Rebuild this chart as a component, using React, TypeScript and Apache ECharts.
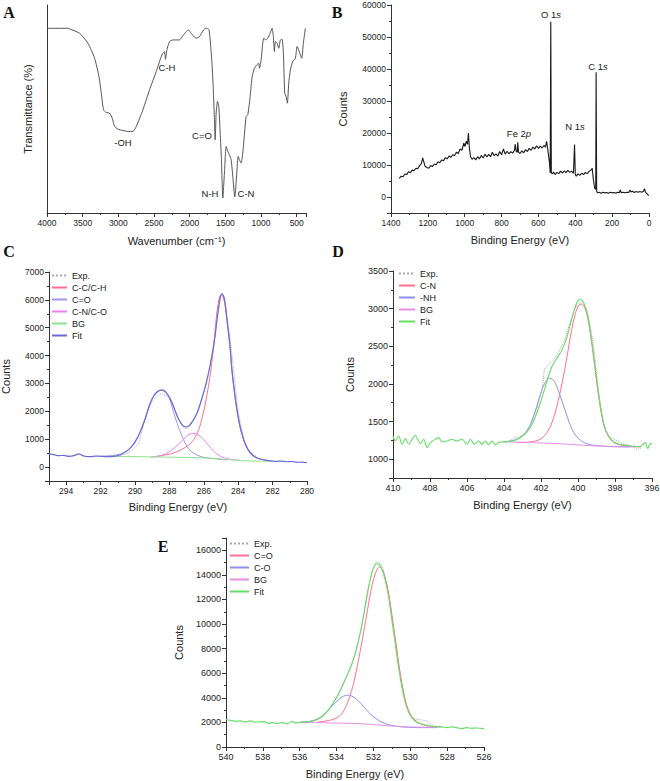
import React, { useEffect, useRef } from 'react';
import * as echarts from 'echarts';

// ---------- Panel A: FTIR ----------
const ftirWavenumber = [4000, 3706, 3683, 3543, 3426, 3333, 3272, 3239, 3207, 3169, 3123, 3085, 3053, 3006, 2936, 2866, 2796, 2749, 2656, 2563, 2469, 2399, 2376, 2353, 2339, 2320, 2283, 2236, 2143, 2105, 2049, 2017, 1979, 1909, 1863, 1807, 1769, 1732, 1709, 1685, 1667, 1653, 1643, 1629, 1611, 1592, 1573, 1555, 1536, 1513, 1489, 1466, 1443, 1419, 1396, 1368, 1340, 1321, 1303, 1279, 1256, 1209, 1186, 1153, 1125, 1093, 1060, 1032, 1023, 999, 976, 962, 929, 906, 873, 845, 827, 813, 799, 775, 752, 729, 705, 687, 668, 649, 631, 612, 589, 556, 519, 495, 472, 449, 430, 407, 379];
const ftirTransmittance = [88.8, 88.8, 88.5, 86.4, 81.6, 74.4, 65.6, 57.6, 49.6, 48.3, 48.0, 45.6, 41.6, 40.3, 39.7, 39.2, 39.2, 41.6, 49.6, 59.2, 68.0, 75.2, 76.8, 77.6, 73.9, 78.4, 82.4, 83.2, 83.2, 84.8, 87.2, 88.0, 86.4, 84.0, 84.8, 88.0, 88.8, 88.3, 81.6, 70.4, 57.6, 44.8, 35.2, 48.0, 53.6, 51.2, 38.4, 25.6, 7.2, 19.2, 32.0, 29.6, 28.0, 25.6, 17.6, 7.7, 19.2, 27.2, 25.6, 24.0, 28.8, 46.4, 47.2, 56.0, 65.6, 69.6, 71.2, 72.0, 69.6, 73.6, 81.6, 84.0, 83.2, 84.0, 86.4, 88.8, 84.8, 77.6, 82.4, 81.6, 79.2, 83.2, 83.5, 76.8, 57.6, 56.0, 52.8, 62.4, 68.8, 72.8, 74.4, 80.0, 78.4, 76.0, 74.4, 81.6, 88.8];
const ftirPeakLabels = ['C-H', '-OH', 'C=O', 'N-H', 'C-N'];

// ---------- Panel B: XPS survey ----------
const surveyBE = [1355, 1345, 1335, 1325, 1315, 1305, 1295, 1285, 1275, 1265, 1255, 1245, 1235, 1228, 1222, 1215, 1205, 1195, 1185, 1175, 1165, 1155, 1145, 1135, 1125, 1115, 1105, 1095, 1085, 1075, 1065, 1055, 1045, 1035, 1025, 1015, 1005, 998, 992, 985, 980, 975, 968, 960, 950, 940, 930, 920, 910, 900, 890, 880, 870, 860, 850, 840, 830, 820, 810, 800, 790, 780, 770, 760, 750, 740, 730, 726, 720, 715, 712, 708, 700, 690, 680, 670, 660, 650, 640, 630, 620, 610, 600, 590, 580, 570, 562, 556, 550, 545, 540, 536, 533, 530, 525, 518, 510, 500, 490, 480, 470, 460, 450, 440, 430, 420, 410, 404, 400, 395, 385, 375, 365, 355, 345, 335, 325, 315, 308, 302, 295, 289, 287, 284, 280, 270, 260, 250, 240, 230, 220, 210, 200, 190, 180, 170, 160, 156, 150, 140, 130, 120, 110, 103, 98, 90, 80, 70, 60, 50, 40, 30, 24, 20, 14, 8, 2];
const surveyCounts = [5800, 6500, 6300, 7200, 7000, 7900, 7600, 8400, 8200, 9000, 8800, 9800, 10400, 12200, 11000, 9600, 9200, 9000, 9800, 9500, 10300, 10100, 11000, 10700, 11600, 11300, 12300, 11900, 12800, 12400, 13200, 13000, 14000, 13600, 15000, 14600, 16800, 15800, 17400, 16500, 20000, 15500, 12500, 11800, 12300, 11600, 12600, 11900, 13000, 12200, 13400, 12500, 13300, 12600, 14000, 12900, 13500, 12800, 14200, 13200, 15000, 13400, 14300, 13500, 14200, 13700, 14600, 16500, 14200, 14000, 17100, 14000, 13600, 14400, 13800, 14800, 14200, 15200, 14600, 15600, 15000, 16000, 15200, 15900, 15300, 16100, 15600, 17400, 15200, 13000, 10600, 7500, 54800, 7600, 7200, 7800, 7000, 7700, 7300, 8100, 7500, 8200, 7600, 8300, 7700, 8100, 7400, 16400, 7100, 6500, 7200, 6800, 7400, 7000, 7700, 7300, 8000, 8400, 9000, 5500, 2800, 2400, 39000, 1800, 1300, 1500, 1200, 1500, 1300, 1400, 1200, 1500, 1300, 1400, 1200, 1500, 1400, 2200, 1300, 1500, 1300, 1500, 1400, 2200, 1600, 1800, 1400, 1700, 1500, 1700, 1500, 1800, 2600, 1600, 1200, 900, 400];

// ---------- Panel C: C 1s ----------
const cExp: number[][] = [[291.0, 390], [290.5, 480], [290.2, 600], [290.0, 700], [289.8, 860], [289.6, 1300], [289.4, 1750], [289.2, 2100], [289.0, 2350], [288.8, 2500], [288.6, 2600], [288.4, 2620], [288.2, 2560], [288.0, 2520], [287.8, 2300], [287.6, 1900], [287.4, 1620], [287.2, 1420], [287.0, 1380], [286.8, 1480], [286.6, 1700], [286.4, 1900], [286.2, 2250], [286.0, 2700], [285.8, 3200], [285.6, 3800], [285.4, 4500], [285.2, 5400], [285.0, 6150], [284.9, 6200], [284.8, 6050], [284.6, 5200], [284.4, 4200], [284.2, 3100], [284.0, 2000], [283.8, 1400], [283.6, 900], [283.4, 650], [283.2, 500], [283.0, 400], [282.8, 300], [282.5, 250], [282.2, 230]];
const cCC: number[][] = [[288.71, 385], [287.75, 505], [286.97, 746], [286.58, 986], [286.29, 1347], [286.1, 1768], [285.96, 2129], [285.81, 2610], [285.65, 3212], [285.5, 3934], [285.38, 4656], [285.27, 5377], [285.17, 5859], [285.07, 6123], [284.98, 6183], [284.88, 6099], [284.78, 5859], [284.65, 5257], [284.49, 4415], [284.36, 3453], [284.2, 2610], [284.03, 1888], [283.83, 1287], [283.58, 806], [283.29, 505], [282.9, 325], [282.32, 241]];
const cCO: number[][] = [[292.0, 385], [291.23, 421], [290.65, 505], [290.26, 686], [289.97, 926], [289.68, 1287], [289.39, 1768], [289.14, 2250], [288.91, 2550], [288.67, 2707], [288.44, 2755], [288.21, 2671], [287.98, 2430], [287.75, 1950], [287.51, 1500], [287.26, 1100], [287.01, 780], [286.74, 570], [286.39, 430], [286.0, 349], [285.42, 300], [284.65, 253]];
const cCN: number[][] = [[289.1, 349], [288.33, 445], [287.84, 626], [287.45, 830], [287.16, 1010], [286.87, 1167], [286.58, 1203], [286.29, 1143], [286.0, 986], [285.71, 770], [285.42, 565], [285.03, 385], [284.45, 277], [283.87, 241]];
const cBG: number[][] = [[292.0, 385], [290.0, 375], [289.0, 365], [288.0, 355], [287.0, 345], [286.0, 330], [285.0, 290], [284.0, 240], [283.0, 215], [282.0, 205]];
const cFit: number[][] = [[295.0, 470], [294.72, 445], [294.43, 410], [294.14, 420], [293.85, 385], [293.55, 410], [293.26, 470], [293.07, 420], [292.88, 385], [292.59, 375], [292.3, 395], [292.0, 385], [291.6, 375], [291.04, 400], [290.65, 510], [290.26, 690], [289.97, 930], [289.68, 1290], [289.39, 1770], [289.14, 2255], [288.91, 2560], [288.67, 2720], [288.44, 2770], [288.21, 2700], [287.98, 2480], [287.75, 2150], [287.51, 1780], [287.26, 1520], [287.07, 1440], [286.87, 1480], [286.58, 1710], [286.35, 2010], [286.1, 2490], [285.85, 3030], [285.62, 3690], [285.38, 4535], [285.19, 5500], [285.03, 6120], [284.94, 6220], [284.8, 6040], [284.65, 5260], [284.49, 4415], [284.36, 3450], [284.2, 2610], [284.03, 1890], [283.83, 1290], [283.58, 810], [283.29, 505], [282.9, 325], [282.32, 240], [282.0, 215], [281.74, 205], [281.5, 215], [281.16, 190], [280.9, 200], [280.58, 170], [280.3, 175], [280.0, 155]];

// ---------- Panel D: N 1s ----------
const dExp: number[][] = [[403.9, 1215], [403.6, 1260], [403.2, 1300], [402.9, 1330], [402.6, 1420], [402.4, 1560], [402.2, 1680], [402.0, 1870], [401.9, 2000], [401.8, 2200], [401.6, 2250], [401.4, 2300], [401.1, 2400], [400.9, 2500], [400.7, 2600], [400.5, 2760], [400.3, 2900], [400.1, 3030], [399.9, 3080], [399.7, 3060], [399.5, 2960], [399.3, 2720], [399.1, 2380], [398.9, 1940], [398.7, 1600], [398.5, 1380], [398.3, 1300], [398.0, 1260], [397.8, 1240], [397.6, 1210], [397.3, 1190], [397.0, 1160], [396.8, 1130], [396.6, 1150]];
const dCN: number[][] = [[403.3, 1220], [402.58, 1229], [402.04, 1264], [401.68, 1352], [401.41, 1484], [401.14, 1704], [400.86, 2012], [400.59, 2364], [400.38, 2672], [400.14, 2936], [399.96, 3046], [399.84, 3060], [399.66, 3024], [399.51, 2914], [399.33, 2672], [399.15, 2342], [398.97, 1990], [398.79, 1682], [398.58, 1431], [398.34, 1299], [398.07, 1224], [397.71, 1189], [397.17, 1172], [396.63, 1167]];
const dNH: number[][] = [[404.02, 1229], [403.3, 1264], [402.85, 1352], [402.58, 1462], [402.31, 1638], [402.04, 1858], [401.77, 2021], [401.53, 2078], [401.28, 2034], [401.05, 1902], [400.77, 1704], [400.5, 1506], [400.23, 1352], [399.87, 1251], [399.42, 1198], [398.79, 1176], [398.07, 1167], [397.17, 1163]];
const dBG: number[][] = [[404.02, 1233], [402.58, 1220], [401.14, 1207], [399.69, 1185], [398.25, 1167], [396.63, 1163]];
const dFit: number[][] = [[410.0, 1308], [409.87, 1242], [409.69, 1308], [409.51, 1198], [409.33, 1273], [409.15, 1198], [408.97, 1264], [408.79, 1317], [408.67, 1264], [408.52, 1207], [408.34, 1264], [408.16, 1154], [407.98, 1220], [407.71, 1264], [407.53, 1286], [407.35, 1229], [407.08, 1242], [406.81, 1264], [406.54, 1242], [406.27, 1264], [406.0, 1198], [405.82, 1264], [405.6, 1198], [405.37, 1242], [405.19, 1198], [405.01, 1242], [404.83, 1194], [404.65, 1242], [404.47, 1185], [404.29, 1220], [404.11, 1229], [404.02, 1233], [403.57, 1242], [403.12, 1286], [402.76, 1361], [402.49, 1462], [402.22, 1616], [401.95, 1814], [401.68, 2034], [401.41, 2232], [401.14, 2342], [400.86, 2452], [400.59, 2628], [400.38, 2826], [400.2, 2980], [400.02, 3104], [399.87, 3121], [399.69, 3077], [399.51, 2936], [399.33, 2694], [399.15, 2364], [398.97, 2012], [398.79, 1704], [398.58, 1440], [398.34, 1308], [398.07, 1229], [397.71, 1194], [397.17, 1176], [396.63, 1167], [396.49, 1198], [396.36, 1220], [396.23, 1141], [396.13, 1198], [396.0, 1207]];

// ---------- Panel E: O 1s ----------
const eExp: number[][] = [[535.9, 2020], [535.5, 2050], [535.0, 2240], [534.6, 2700], [534.2, 3500], [533.8, 4500], [533.4, 5900], [533.0, 7500], [532.7, 9400], [532.4, 11700], [532.2, 13400], [532.0, 14600], [531.8, 15050], [531.65, 14950], [531.5, 14500], [531.3, 13300], [531.1, 11700], [530.9, 9700], [530.7, 7600], [530.5, 5500], [530.3, 3900], [530.1, 2900], [529.9, 2400], [529.6, 2250], [529.3, 2180], [529.1, 2100], [528.9, 1850], [528.7, 1700], [528.5, 1680], [528.3, 1620]];
const eCdO: number[][] = [[535.07, 2014], [534.35, 2177], [533.89, 2449], [533.62, 2939], [533.35, 3809], [533.08, 5170], [532.81, 7075], [532.54, 9251], [532.32, 11156], [532.09, 13061], [531.85, 14285], [531.67, 14639], [531.49, 14367], [531.31, 13469], [531.13, 12109], [530.95, 10204], [530.77, 8299], [530.59, 6394], [530.41, 4816], [530.23, 3592], [530.01, 2721], [529.74, 2177], [529.38, 1850], [528.93, 1687], [528.39, 1633]];
const eCO: number[][] = [[535.97, 2014], [535.43, 2095], [534.98, 2313], [534.62, 2721], [534.26, 3320], [533.89, 3864], [533.62, 4136], [533.41, 4218], [533.17, 4136], [532.9, 3864], [532.63, 3456], [532.36, 2993], [532.09, 2585], [531.73, 2177], [531.37, 1905], [530.91, 1714], [530.37, 1633], [529.65, 1578], [528.57, 1578]];
const eBG: number[][] = [[535.97, 2014], [534.35, 1959], [532.9, 1905], [532.0, 1823], [531.09, 1714], [530.19, 1633], [528.57, 1605]];
const eFit: number[][] = [[540.0, 2231], [539.77, 2177], [539.49, 2095], [539.22, 2122], [538.95, 2041], [538.68, 2122], [538.41, 2014], [538.14, 2041], [537.87, 2041], [537.69, 1905], [537.51, 2014], [537.24, 1905], [536.97, 1986], [536.69, 1877], [536.42, 2095], [536.24, 1959], [536.06, 1986], [535.97, 2014], [535.43, 2068], [535.07, 2231], [534.71, 2585], [534.35, 3211], [533.98, 4082], [533.62, 5224], [533.26, 6394], [532.99, 7619], [532.72, 9251], [532.54, 10612], [532.36, 12245], [532.18, 13605], [532.0, 14557], [531.82, 14911], [531.67, 14830], [531.53, 14421], [531.37, 13605], [531.18, 12245], [531.0, 10340], [530.82, 8435], [530.64, 6530], [530.46, 4898], [530.28, 3673], [530.1, 2857], [529.83, 2231], [529.56, 1959], [529.29, 1823], [528.93, 1714], [528.57, 1633], [528.29, 1633], [528.02, 1578], [527.75, 1633], [527.48, 1578], [527.21, 1497], [526.94, 1578], [526.67, 1524], [526.4, 1551], [526.0, 1497]];

const FONT = 'Liberation Sans, Arial, Helvetica, sans-serif';
const AX = '#333';

function isMult(v: number, step: number) {
  return Math.abs(Math.round(v / step) * step - v) < 1e-6;
}

function valueAxis(o: any) {
  const { gridIndex, min, max, step, name, nameGap, fontSize, inverse, hideTicks } = o;
  return {
    type: 'value',
    gridIndex,
    min,
    max,
    inverse: !!inverse,
    minInterval: step,
    maxInterval: step,
    splitNumber: Math.max(1, Math.round((max - min) / step)),
    name,
    nameLocation: 'middle',
    nameGap,
    nameTextStyle: { fontSize: 11, color: '#222', fontFamily: FONT },
    axisLine: { show: true, onZero: false, lineStyle: { color: AX, width: 1 } },
    axisTick: { show: !hideTicks, inside: false, length: 4, lineStyle: { color: AX, width: 1 } },
    minorTick: { show: !hideTicks, splitNumber: 2, length: 2, lineStyle: { color: AX, width: 1 } },
    axisLabel: {
      show: !hideTicks,
      fontSize,
      color: '#222',
      fontFamily: FONT,
      margin: 5,
      formatter: (v: number) => (isMult(v, step) ? String(v) : ''),
    },
    splitLine: { show: false },
    minorSplitLine: { show: false },
  };
}

function line(name: string, data: number[][], idx: number, color: string, width = 1, type = 'solid', z = 2) {
  return {
    type: 'line',
    name,
    data,
    xAxisIndex: idx,
    yAxisIndex: idx,
    showSymbol: false,
    symbol: 'none',
    smooth: 0.3,
    lineStyle: { color, width, type },
    itemStyle: { color },
    z,
    silent: true,
  };
}

function legend(left: number, top: number, names: string[], itemWidth: number, fontSize: number) {
  return {
    orient: 'vertical',
    left,
    top,
    padding: 0,
    itemWidth,
    itemHeight: 8,
    itemGap: 3,
    selectedMode: false,
    data: names,
    itemStyle: { opacity: 0 },
    formatter: (n: string) => n.split('|')[1],
    textStyle: { fontSize, color: '#222', fontFamily: FONT },
  };
}

function letter(t: string, x: number, y: number) {
  return {
    type: 'text',
    x,
    y,
    style: { text: t, font: 'bold 16px "Liberation Serif", "Times New Roman", serif', fill: '#111', textAlign: 'center', textVerticalAlign: 'middle' },
  };
}

function note(t: string, x: number, y: number) {
  return {
    type: 'text',
    x,
    y,
    style: { text: t, font: '9.5px ' + FONT, fill: '#222', textAlign: 'center', textVerticalAlign: 'middle' },
  };
}

function noteItalic(plain: string, ital: string, x: number, y: number) {
  return {
    type: 'text',
    x,
    y,
    style: {
      text: '{n|' + plain + '}{i|' + ital + '}',
      fill: '#222',
      textAlign: 'center',
      textVerticalAlign: 'middle',
      rich: {
        n: { fontSize: 9.5, fontFamily: FONT, fill: '#222' },
        i: { fontSize: 9.5, fontFamily: FONT, fontStyle: 'italic', fill: '#222' },
      },
    },
  };
}

const colC = { exp: '#a8a8bc', cc: '#ff6f8f', co: '#9a9af0', cn: '#f27ff2', bg: '#8fe08f', fit: '#6b6bd6' };
const colDE = { exp: '#a8a8a8', red: '#ff6f8f', blue: '#8f8fee', bg: '#e58fe5', fit: '#66dd66' };

export default function App() {
  const ref = useRef<HTMLDivElement>(null);
  useEffect(() => {
    if (!ref.current) return;
    const chart = echarts.init(ref.current, null, { renderer: 'svg' });
    const ftir = ftirWavenumber.map((w, i) => [w, ftirTransmittance[i]]);
    const survey = surveyBE.map((b, i) => [b, surveyCounts[i]]);

    const option: any = {
      animation: false,
      backgroundColor: '#fff',
      grid: [
        { left: 47, top: 5, width: 259, height: 208, outerBoundsMode: 'none' },
        { left: 391, top: 5, width: 258, height: 208, outerBoundsMode: 'none' },
        { left: 49, top: 272, width: 258, height: 209, outerBoundsMode: 'none' },
        { left: 393, top: 271, width: 259, height: 207, outerBoundsMode: 'none' },
        { left: 226, top: 538, width: 258, height: 209, outerBoundsMode: 'none' },
      ],
      xAxis: [
        valueAxis({ gridIndex: 0, min: 370, max: 4000, step: 500, name: 'Wavenumber (cm⁻¹)', nameGap: 22, fontSize: 8.5, inverse: true }),
        valueAxis({ gridIndex: 1, min: 0, max: 1400, step: 200, name: 'Binding Energy (eV)', nameGap: 21, fontSize: 8.5, inverse: true }),
        valueAxis({ gridIndex: 2, min: 280, max: 295, step: 2, name: 'Binding Energy (eV)', nameGap: 20, fontSize: 8.5, inverse: true }),
        valueAxis({ gridIndex: 3, min: 396, max: 410, step: 2, name: 'Binding Energy (eV)', nameGap: 21, fontSize: 9, inverse: true }),
        valueAxis({ gridIndex: 4, min: 526, max: 540, step: 2, name: 'Binding Energy (eV)', nameGap: 21, fontSize: 9, inverse: true }),
      ],
      yAxis: [
        valueAxis({ gridIndex: 0, min: 0, max: 100, step: 20, name: 'Transmittance (%)', nameGap: 14, fontSize: 8.5, hideTicks: true }),
        valueAxis({ gridIndex: 1, min: -5000, max: 60000, step: 10000, name: 'Counts', nameGap: 43, fontSize: 8.5 }),
        valueAxis({ gridIndex: 2, min: -500, max: 7000, step: 1000, name: 'Counts', nameGap: 38, fontSize: 8.5 }),
        valueAxis({ gridIndex: 3, min: 750, max: 3500, step: 500, name: 'Counts', nameGap: 38, fontSize: 9 }),
        valueAxis({ gridIndex: 4, min: 0, max: 17000, step: 2000, name: 'Counts', nameGap: 42, fontSize: 9 }),
      ],
      legend: [
        legend(51, 271, ['C|Exp.', 'C|C-C/C-H', 'C|C=O', 'C|C-N/C-O', 'C|BG', 'C|Fit'], 15, 9),
        legend(398, 269, ['D|Exp.', 'D|C-N', 'D|-NH', 'D|BG', 'D|Fit'], 16, 9),
        legend(229, 539, ['E|Exp.', 'E|C=O', 'E|C-O', 'E|BG', 'E|Fit'], 19, 9),
      ],
      series: [
        { ...line('A|FTIR', ftir, 0, '#555', 1), smooth: 0.2 },
        { ...line('B|Survey', survey, 1, '#1a1a1a', 1.1), smooth: false },
        line('C|Exp.', cExp, 2, colC.exp, 1, 'dotted', 2),
        line('C|C-C/C-H', cCC, 2, colC.cc, 1, 'solid', 3),
        line('C|C=O', cCO, 2, colC.co, 1, 'solid', 3),
        line('C|C-N/C-O', cCN, 2, colC.cn, 1, 'solid', 3),
        line('C|BG', cBG, 2, colC.bg, 1, 'solid', 3),
        line('C|Fit', cFit, 2, colC.fit, 1.2, 'solid', 4),
        line('D|Exp.', dExp, 3, colDE.exp, 1, 'dotted', 2),
        line('D|C-N', dCN, 3, colDE.red, 1, 'solid', 3),
        line('D|-NH', dNH, 3, colDE.blue, 1, 'solid', 3),
        line('D|BG', dBG, 3, colDE.bg, 1, 'solid', 3),
        line('D|Fit', dFit, 3, colDE.fit, 1.1, 'solid', 4),
        line('E|Exp.', eExp, 4, colDE.exp, 1, 'dotted', 2),
        line('E|C=O', eCdO, 4, colDE.red, 1, 'solid', 3),
        line('E|C-O', eCO, 4, colDE.blue, 1, 'solid', 3),
        line('E|BG', eBG, 4, colDE.bg, 1, 'solid', 3),
        line('E|Fit', eFit, 4, colDE.fit, 1.1, 'solid', 4),
      ],
      graphic: [
        letter('A', 9, 12),
        letter('B', 337, 12),
        letter('C', 9, 251),
        letter('D', 338, 251),
        letter('E', 163, 546),
        note(ftirPeakLabels[0], 167, 67),
        note(ftirPeakLabels[1], 123, 142),
        note(ftirPeakLabels[2], 202, 135),
        note(ftirPeakLabels[3], 210, 193),
        note(ftirPeakLabels[4], 246, 193),
        noteItalic('O 1', 's', 551, 14),
        noteItalic('C 1', 's', 598, 66),
        noteItalic('N 1', 's', 575, 126),
        noteItalic('Fe 2', 'p', 519, 133),
      ],
    };
    chart.setOption(option);
    return () => chart.dispose();
  }, []);
  return <div ref={ref} style={{ position: 'fixed', left: 0, top: 0, width: 660, height: 781, background: '#fff' }} />;
}
